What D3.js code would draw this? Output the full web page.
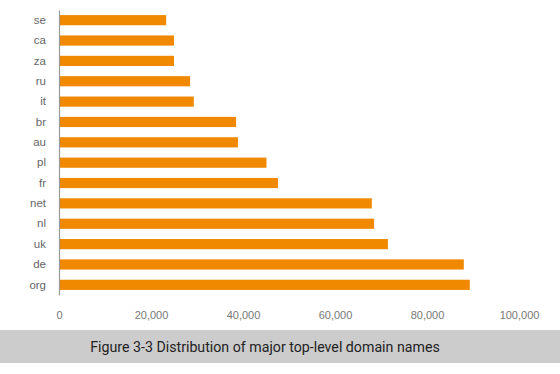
<!DOCTYPE html>
<html>
<head>
<meta charset="utf-8">
<script src="https://cdn.jsdelivr.net/npm/d3@7"></script>
<style>
  body { margin: 0; background: #fff; }
  svg { display: block; font-family: Roboto, "Noto Sans", sans-serif; }
</style>
</head>
<body>
<div id="chart"></div>
<script>
// data
var domains = ["se", "ca", "za", "ru", "it", "br", "au", "pl", "fr", "net", "nl", "uk", "de", "org"];
var counts = [23300, 25000, 25000, 28500, 29300, 38500, 38900, 45100, 47600, 68000, 68500, 71500, 88000, 89300];
var xTicks = [0, 20000, 40000, 60000, 80000, 100000];
var caption = "Figure 3-3 Distribution of major top-level domain names";

var W = 560, H = 374;
var margin = { top: 10, right: 41, bottom: 79, left: 59 },
    width = W - margin.left - margin.right,
    height = H - margin.top - margin.bottom;

var svg = d3.select("#chart")
    .append("svg")
    .attr("width", W)
    .attr("height", H);

var g = svg.append("g")
    .attr("transform", "translate(" + margin.left + "," + margin.top + ")");

var x = d3.scaleLinear()
    .domain([0, 100000])
    .range([0, width]);

var y = d3.scaleBand()
    .domain(domains)
    .range([0, height])
    .paddingInner(0.5)
    .paddingOuter(0.25);

// bars
g.selectAll("rect.bar")
    .data(domains)
    .enter().append("rect")
    .attr("class", "bar")
    .attr("x", x(0))
    .attr("y", function (d) { return y(d); })
    .attr("width", function (d, i) { return x(counts[i]) - x(0); })
    .attr("height", y.bandwidth())
    .attr("fill", "#f08800");

// y axis (line + labels)
var yAxis = g.append("g")
    .call(d3.axisLeft(y).tickSize(0).tickPadding(13));
yAxis.select(".domain").attr("stroke", "#999").attr("stroke-width", 1.2);
yAxis.selectAll("text")
    .attr("fill", "#666")
    .style("font-size", "11.5px");

// x axis labels only
var xAxis = g.append("g")
    .attr("transform", "translate(0," + height + ")")
    .call(d3.axisBottom(x).tickValues(xTicks).tickSize(0).tickPadding(16)
        .tickFormat(d3.format(",")));
xAxis.select(".domain").remove();
xAxis.selectAll("text")
    .attr("fill", "#777")
    .style("font-size", "11px");

// caption band
svg.append("rect")
    .attr("x", 0)
    .attr("y", 330)
    .attr("width", W)
    .attr("height", 33)
    .attr("fill", "#cccccc");

svg.append("text")
    .attr("x", 265)
    .attr("y", 347)
    .attr("text-anchor", "middle")
    .attr("dominant-baseline", "central")
    .attr("fill", "#222")
    .style("font-size", "14.2px")
    .text(caption);
</script>
</body>
</html>
